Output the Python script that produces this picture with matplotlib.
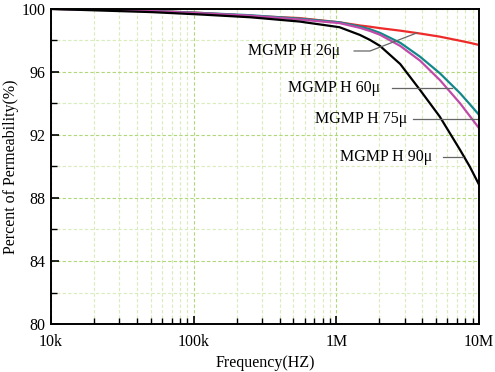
import matplotlib.pyplot as plt
import numpy as np
from matplotlib.ticker import FixedLocator, NullFormatter

plt.rcParams['font.family'] = ['Liberation Serif', 'DejaVu Serif']

# frequencies (Hz) where the curves were read
freq = [1e4, 2.2e4, 5e4, 1.1e5, 2.5e5, 5.5e5, 1.05e6, 1.46e6, 1.72e6,
        2.02e6, 2.8e6, 3.85e6, 5.3e6, 7.35e6, 8.6e6, 1e7]

h26 = [100.0, 99.96, 99.88, 99.75, 99.56, 99.42, 99.15, 98.95, 98.87,
       98.78, 98.62, 98.44, 98.24, 97.98, 97.85, 97.71]
h60 = [100.0, 99.95, 99.88, 99.75, 99.6, 99.38, 99.15, 98.88, 98.71,
       98.48, 97.85, 96.97, 95.92, 94.65, 93.95, 93.27]
h75 = [100.0, 99.95, 99.87, 99.73, 99.57, 99.33, 99.1, 98.8, 98.6,
       98.36, 97.65, 96.72, 95.49, 94.01, 93.2, 92.42]
h90 = [100.0, 99.9, 99.8, 99.65, 99.47, 99.2, 98.84, 98.35, 98.03,
       97.65, 96.5, 94.86, 93.16, 91.05, 89.99, 88.83]

series = [
    ('MGMP H 26\u03bc', h26, '#ee2a2a'),
    ('MGMP H 60\u03bc', h60, '#13888a'),
    ('MGMP H 75\u03bc', h75, '#c04aa8'),
    ('MGMP H 90\u03bc', h90, '#000000'),
]

fig = plt.figure(figsize=(4.95, 3.72), dpi=100)
ax = fig.add_axes([0.103, 0.129, 0.865, 0.847])

for name, vals, col in series:
    ax.plot(freq, vals, color=col, lw=1.6)

ax.set_xscale('log')
ax.set_xlim(1e4, 1e7)
ax.set_ylim(80, 100)

ax.set_xticks([1e4, 1e5, 1e6, 1e7])
ax.set_xticklabels(['10k', '100k', '1M', '10M'])
minors = [m * d for d in [1e4, 1e5, 1e6] for m in range(2, 10)]
ax.xaxis.set_minor_locator(FixedLocator(minors))
ax.xaxis.set_minor_formatter(NullFormatter())
ax.set_yticks([80, 84, 88, 92, 96, 100])
ax.set_yticks([82, 86, 90, 94, 98], minor=True)

ax.tick_params(which='major', direction='in', length=6, width=1.2, labelsize=11.5, pad=4)
ax.tick_params(which='minor', direction='in', length=4, width=1.0)
ax.tick_params(axis='x', pad=7)

ax.grid(which='major', color='#b0d878', ls=(0, (3, 2)), lw=0.8)
ax.grid(which='minor', color='#d9ecbb', ls=(0, (3, 2)), lw=0.8)
ax.set_axisbelow(True)

for s in ax.spines.values():
    s.set_linewidth(1.4)

ax.set_xlabel('Frequency(HZ)', fontsize=11.5, labelpad=4)
ax.set_ylabel('Percent of Permeability(%)', fontsize=11.5, labelpad=2)

# labels with leader lines
lead = '#666666'
ax.text(2.4e5, 97.33, 'MGMP H 26\u03bc', fontsize=11.5, va='center')
ax.plot([1.33e6, 1.72e6, 3.67e6], [97.33, 97.33, 98.48], color=lead, lw=0.9)
ax.text(4.58e5, 95.0, 'MGMP H 60\u03bc', fontsize=11.5, va='center')
ax.plot([2.45e6, 6.46e6], [95.0, 95.0], color=lead, lw=0.9)
ax.text(7.08e5, 93.0, 'MGMP H 75\u03bc', fontsize=11.5, va='center')
ax.plot([3.44e6, 9.8e6], [93.0, 93.0], color=lead, lw=0.9)
ax.text(1.06e6, 90.62, 'MGMP H 90\u03bc', fontsize=11.5, va='center')
ax.plot([5.58e6, 7.71e6], [90.62, 90.62], color=lead, lw=0.9)

fig.savefig('out.png', dpi=100)
